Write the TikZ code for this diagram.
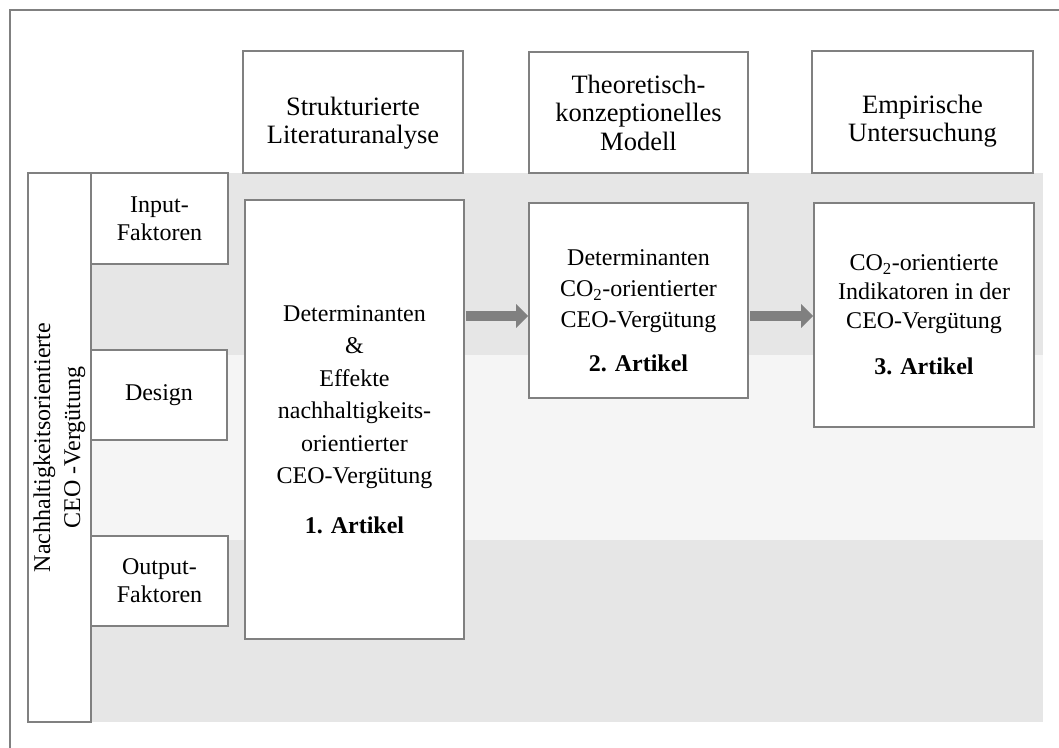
\documentclass[tikz,border=0pt]{standalone}
\usepackage{fontspec}
\setmainfont{Liberation Serif}
\usetikzlibrary{arrows.meta}
\definecolor{linegray}{HTML}{808080}
\definecolor{banddark}{HTML}{E6E6E6}
\definecolor{bandlight}{HTML}{F5F5F5}
\tikzset{
  box/.style={draw=linegray, fill=white, line width=1.6pt, inner sep=0pt,
    align=center, font=\fontsize{24}{31}\selectfont},
  headbox/.style={box, font=\fontsize{26.5}{28.5}\selectfont},
  sidebox/.style={box, font=\fontsize{24}{28}\selectfont},
  flow/.style={draw=linegray, line width=10pt,
    -{Triangle[length=12pt,width=23pt]}},
  frame/.style={draw=linegray, line width=2pt}
}
\begin{document}
\begin{tikzpicture}[x=1pt,y=-1pt]
\clip (0,0) rectangle (1059,747);
\fill[white] (0,0) rectangle (1059,747);
% outer frame (continues past the right and bottom edges)
\draw[frame] (10,10) rectangle (1090,780);

% background bands
\fill[banddark]  (28,173) rectangle (1043,355);
\fill[bandlight] (28,355) rectangle (1043,540);
\fill[banddark]  (28,540) rectangle (1043,722);

% column headers (an empty first line pushes two-line texts down a little)
\node[headbox, minimum width=220pt, minimum height=122pt] (h1) at (353,112)
  {\mbox{}\\[12pt]Strukturierte\\Literaturanalyse};
\node[headbox, minimum width=219pt, minimum height=121pt] (h2) at (638.5,112.5)
  {Theoretisch-\\konzeptionelles\\Modell};
\node[headbox, minimum width=221pt, minimum height=122pt] (h3) at (922.5,112)
  {\mbox{}\\[8pt]Empirische\\Untersuchung};

% left bar and its three dimensions
\node[box, rotate=90, minimum width=549pt, minimum height=63pt,
  font=\fontsize{24}{30}\selectfont] (bar) at (59.5,447.5)
  {Nachhaltigkeitsorientierte\\CEO -Vergütung};
\node[sidebox, minimum width=137pt, minimum height=91pt] (inp) at (159.5,218.5)
  {Input-\\Faktoren};
\node[sidebox, minimum width=136pt, minimum height=90pt] (des) at (159,395)
  {Design};
\node[sidebox, minimum width=137pt, minimum height=90pt] (out) at (159.5,581)
  {Output-\\Faktoren};

% articles
\node[box, minimum width=219pt, minimum height=439pt,
  font=\fontsize{24}{32.5}\selectfont] (a1) at (354.5,419.5)
  {Determinanten\\\&\\Effekte\\nachhaltigkeits-\\orientierter\\CEO-Vergütung\\[17pt]\textbf{1. Artikel}};
\node[box, minimum width=219pt, minimum height=195pt] (a2) at (638.5,300.5)
  {\mbox{}\\[5.5pt]Determinanten\\CO\textsubscript{2}-orientierter\\CEO-Vergütung\\[13pt]\textbf{2. Artikel}};
\node[box, minimum width=220pt, minimum height=224pt,
  font=\fontsize{24}{29}\selectfont] (a3) at (924,315)
  {CO\textsubscript{2}-orientierte\\Indikatoren in der\\CEO-Vergütung\\[17pt]\textbf{3. Artikel}};

% flow between the articles
\coordinate (ay) at (0,316);
\draw[flow] ([xshift=1pt]a1.east |- ay) -- (a2.west |- ay);
\draw[flow] ([xshift=1pt]a2.east |- ay) -- (a3.west |- ay);
\end{tikzpicture}
\end{document}
